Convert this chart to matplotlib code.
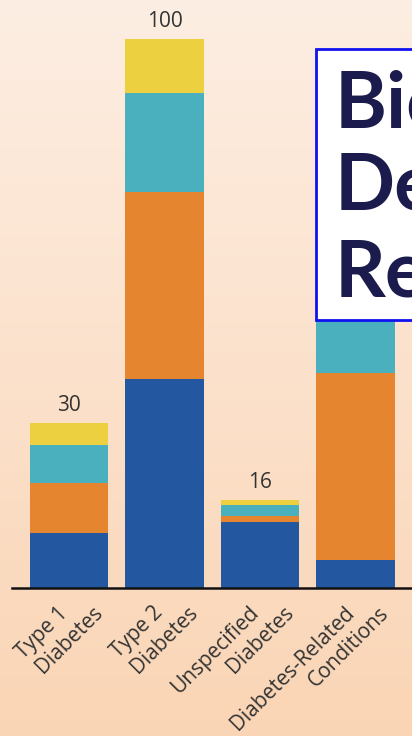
import numpy as np
import matplotlib.pyplot as plt
from matplotlib.patches import Rectangle
from matplotlib.transforms import ScaledTranslation

categories = ["Type 1\nDiabetes", "Type 2\nDiabetes", "Unspecified\nDiabetes",
              "Diabetes-Related\nConditions"]
blue_vals = [10, 38, 12, 5]
orange_vals = [9, 34, 1, 34]
teal_vals = [7, 18, 2, 12]
yellow_vals = [4, 10, 1, 5]
totals = [30, 100, 16, 56]

colors = ["#2358A0", "#E5852F", "#4AB0BD", "#EDD040"]

W, H = 412, 736
fig = plt.figure(figsize=(W / 100, H / 100), dpi=100)

# soft peach vertical gradient behind everything
bg = fig.add_axes([0, 0, 1, 1], zorder=-10)
top = np.array([253, 238, 227]) / 255
bot = np.array([250, 213, 181]) / 255
t = np.linspace(0, 1, 256)[:, None]
grad = top[None, :] * (1 - t) + bot[None, :] * t
bg.imshow(grad[:, None, :], aspect="auto", extent=[0, 1, 0, 1])
bg.axis("off")

ax = fig.add_axes([12 / W, 148.5 / H, 1 - 12 / W, 549 / H])
ax.patch.set_alpha(0)
x = np.arange(len(categories))
width = 0.82
bottom = np.zeros(len(categories))
for vals, c in zip([blue_vals, orange_vals, teal_vals, yellow_vals], colors):
    ax.bar(x, vals, width, bottom=bottom, color=c, zorder=2)
    bottom += np.array(vals)

# the last total sits under the title card, so only the first three are labelled
for xi, tot in zip(x[:3], totals[:3]):
    ax.annotate(str(tot), (xi, tot), xytext=(0, 5), textcoords="offset points",
                ha="center", va="bottom", fontsize=15, color="#333333",
                family="Open Sans", clip_on=False)

ax.set_xlim(-0.597, 3.59)
ax.set_ylim(0, 100)
for s in ["top", "right", "left"]:
    ax.spines[s].set_visible(False)
ax.spines["bottom"].set_linewidth(1.8)
ax.spines["bottom"].set_color("#111111")
ax.set_yticks([])
ax.set_xticks(x)
ax.set_xticklabels([])
ax.tick_params(axis="x", length=0)

# category labels: each line right-aligned, the second line stepped to the right
for xi, cat in zip(x, categories):
    for i, line in enumerate(cat.split("\n")):
        off = ScaledTranslation((-12 + 35 * i) / 100, -15 / 100, fig.dpi_scale_trans)
        ax.text(xi, 0, line, transform=ax.get_xaxis_transform() + off,
                rotation=45, ha="right", va="top", rotation_mode="anchor",
                fontsize=15, family="Open Sans", color="#333333", clip_on=False)

# title card on the right
box = Rectangle((316 / W, 1 - 320 / H), 0.5, (320 - 49) / H,
                transform=fig.transFigure, facecolor="white",
                edgecolor="#1010F0", linewidth=2, zorder=5)
fig.add_artist(box)
for word, base in [("Bio", 127), ("De", 210), ("Re", 297)]:
    fig.text(335 / W, 1 - base / H, word, fontsize=57, fontweight="bold",
             family="Lato", color="#1B1B4D", va="baseline", ha="left", zorder=6)

fig.savefig("out.png", dpi=100)
